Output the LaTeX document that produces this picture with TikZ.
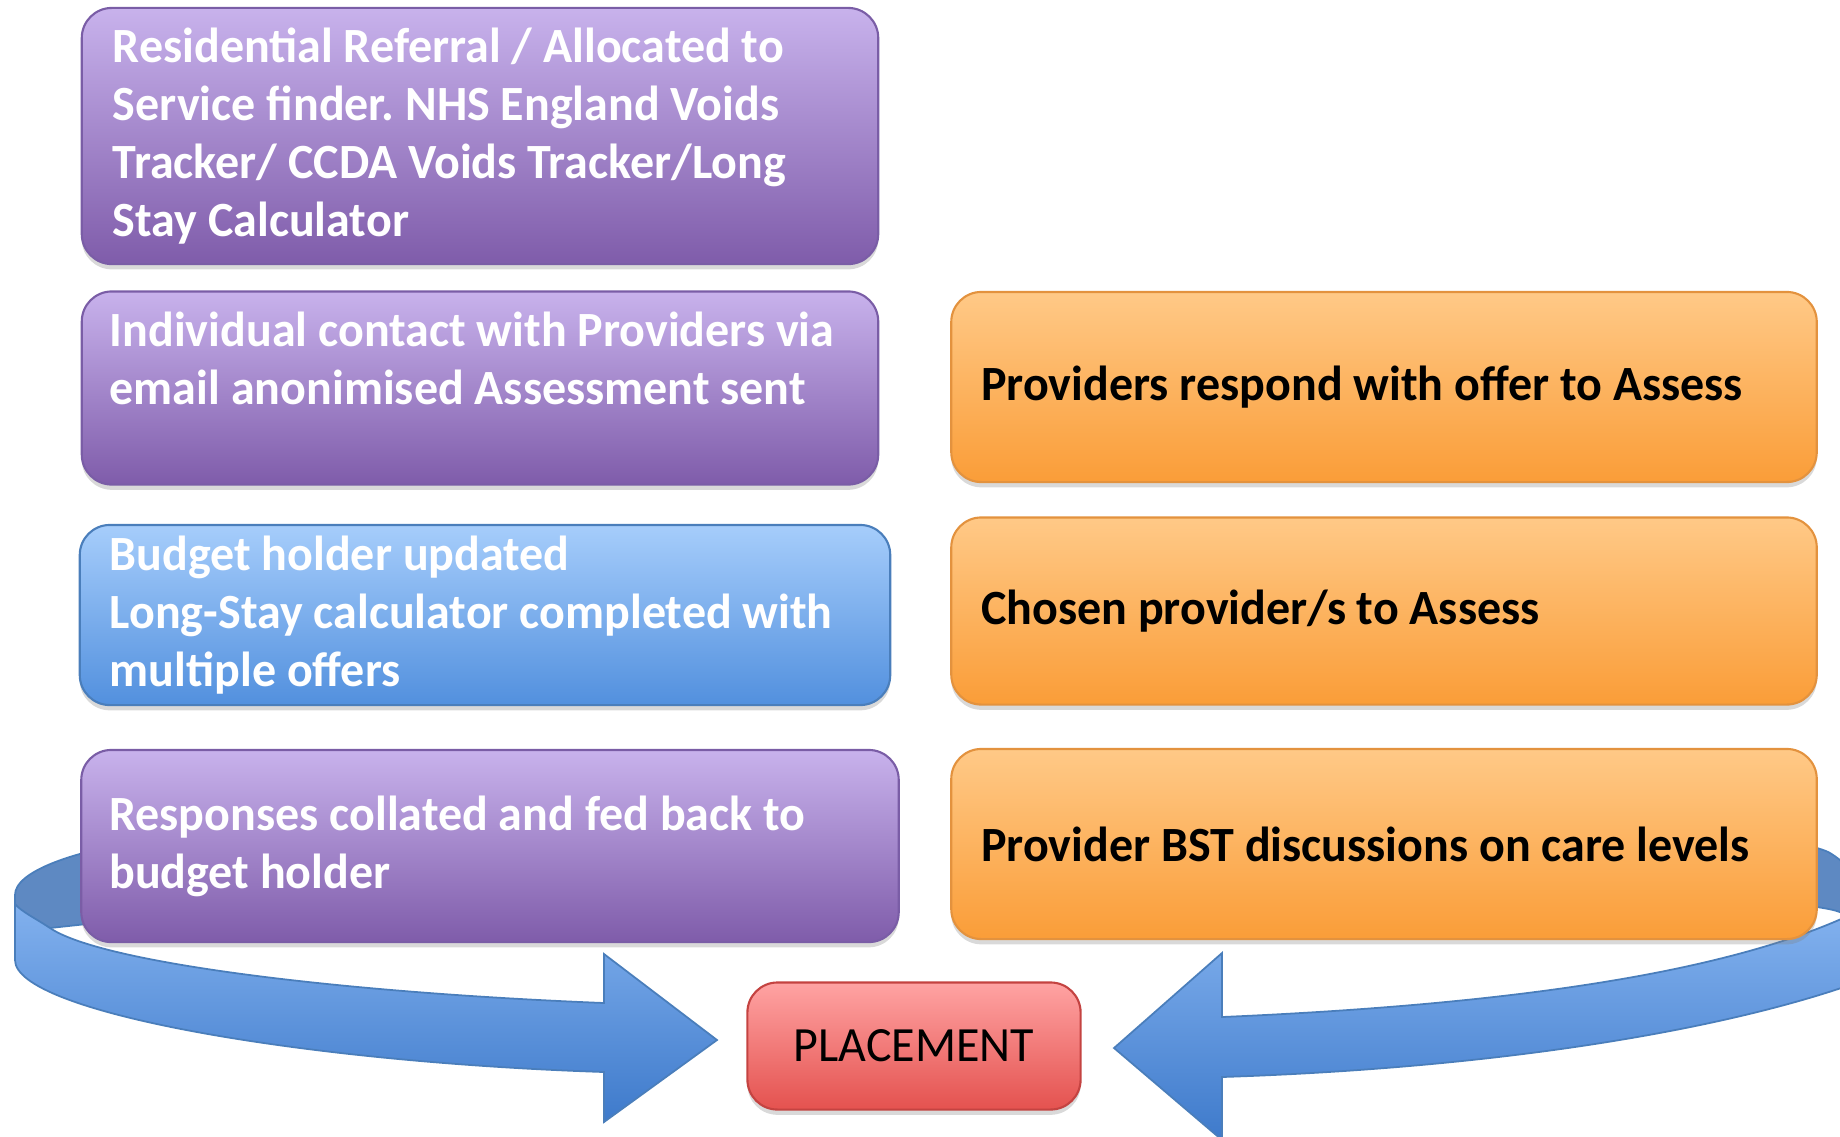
\documentclass[tikz,border=0pt]{standalone}
\usepackage{fontspec}
\setmainfont{Carlito}[FakeStretch=0.975]
\usetikzlibrary{shadows}
\frenchspacing

\definecolor{lilaO}{HTML}{C8B2EC}
\definecolor{lilaU}{HTML}{7F5CAA}
\definecolor{lilaR}{HTML}{7A5DA6}
\definecolor{blauO}{HTML}{A6CDFB}
\definecolor{blauU}{HTML}{5290DE}
\definecolor{blauR}{HTML}{4A7EBB}
\definecolor{orO}{HTML}{FFC987}
\definecolor{orU}{HTML}{FA9D38}
\definecolor{orR}{HTML}{E3923E}
\definecolor{rotO}{HTML}{FFA3A3}
\definecolor{rotU}{HTML}{E4524F}
\definecolor{rotR}{HTML}{C44341}
\definecolor{pfO}{HTML}{82B1EE}
\definecolor{pfU}{HTML}{3E7ACB}
\definecolor{pfH}{HTML}{5E89C2}

\begin{document}
\begin{tikzpicture}[x=0.01cm, y=-0.01cm,
  kasten/.style={rounded corners=0.3cm, align=flush left, inner xsep=0.3cm, inner ysep=0pt,
    font=\fontsize{14}{16.5}\selectfont\bfseries, line width=0.6pt,
    drop shadow={opacity=0.3, shadow xshift=0pt, shadow yshift=-1.5pt}},
  lila/.style={kasten, text=white, top color=lilaO, bottom color=lilaU, draw=lilaR},
  blau/.style={kasten, text=white, top color=blauO, bottom color=blauU, draw=blauR},
  orange/.style={kasten, text=black, top color=orO, bottom color=orU, draw=orR},
  pfeil/.style={top color=pfO, bottom color=pfU, draw=blauR, line width=0.5pt},
  pfeilhinten/.style={fill=pfH, draw=blauR, line width=0.5pt}]

\useasboundingbox (0,0) rectangle (1840,1136);
\clip (0,0) rectangle (1840,1136);

% Pfeil links
\path[pfeilhinten] (170,836) .. controls (70,850) and (15,872) .. (15,895) -- (15,905)
  .. controls (25,915) and (38,922) .. (50,928) -- (170,915) -- cycle;
\path[pfeil] (15,904) -- (15,960) .. controls (15,1012) and (300,1062) .. (604,1072)
  -- (604,1122) -- (717,1040) -- (604,954) -- (604,1003)
  .. controls (330,992) and (100,962) .. (50,928) .. controls (35,918) and (22,912) .. (15,904) -- cycle;

% Pfeil rechts
\path[pfeilhinten] (1700,836) -- (1817,848) .. controls (1830,852) .. (1850,868) -- (1850,916)
  .. controls (1835,910) .. (1817,907) -- (1700,905) -- cycle;
\path[pfeil] (1222,1017) .. controls (1500,1005) and (1720,975) .. (1850,915) -- (1850,985)
  .. controls (1720,1030) and (1500,1068) .. (1222,1077) -- (1222,1140) -- (1114,1048)
  -- (1222,953) -- cycle;

% linke Spalte
\node[lila, text width=7.34cm, inner xsep=0.31cm, minimum height=2.56cm] (Ref) at (480,136)
  {Residential Referral / Allocated to\\ Service finder. NHS England Voids\\ Tracker/ CCDA Voids Tracker/Long\\ Stay Calculator};
\node[lila, text width=7.40cm, inner xsep=0.28cm, minimum height=1.93cm] (Contact) at (480,388)
  {Individual contact with Providers via\\ email anonimised Assessment sent\\[-4.6pt] \strut};
\node[blau, text width=7.50cm, minimum height=1.80cm] (Budget) at (485,615)
  {Budget holder updated\\ Long-Stay calculator completed with\\ multiple offers};
\node[lila, text width=7.61cm, inner xsep=0.28cm, minimum height=1.92cm] (Resp) at (490,846)
  {Responses collated and fed back to\\ budget holder};

% rechte Spalte
\node[orange, text width=8.05cm, minimum height=1.90cm] (Offer) at (1384,387)
  {Providers respond with offer to Assess};
\node[orange, text width=8.05cm, minimum height=1.87cm] (Chosen) at (1384,611)
  {Chosen provider/s to Assess};
\node[orange, text width=8.05cm, minimum height=1.90cm] (BST) at (1384,844)
  {Provider BST discussions on care levels};

% Ziel
\node[kasten, align=center, font=\fontsize{14}{16.5}\selectfont, top color=rotO, bottom color=rotU,
  draw=rotR, minimum width=3.33cm, minimum height=1.27cm] (Place) at (914,1046) {PLACEMENT};

\end{tikzpicture}
\end{document}
